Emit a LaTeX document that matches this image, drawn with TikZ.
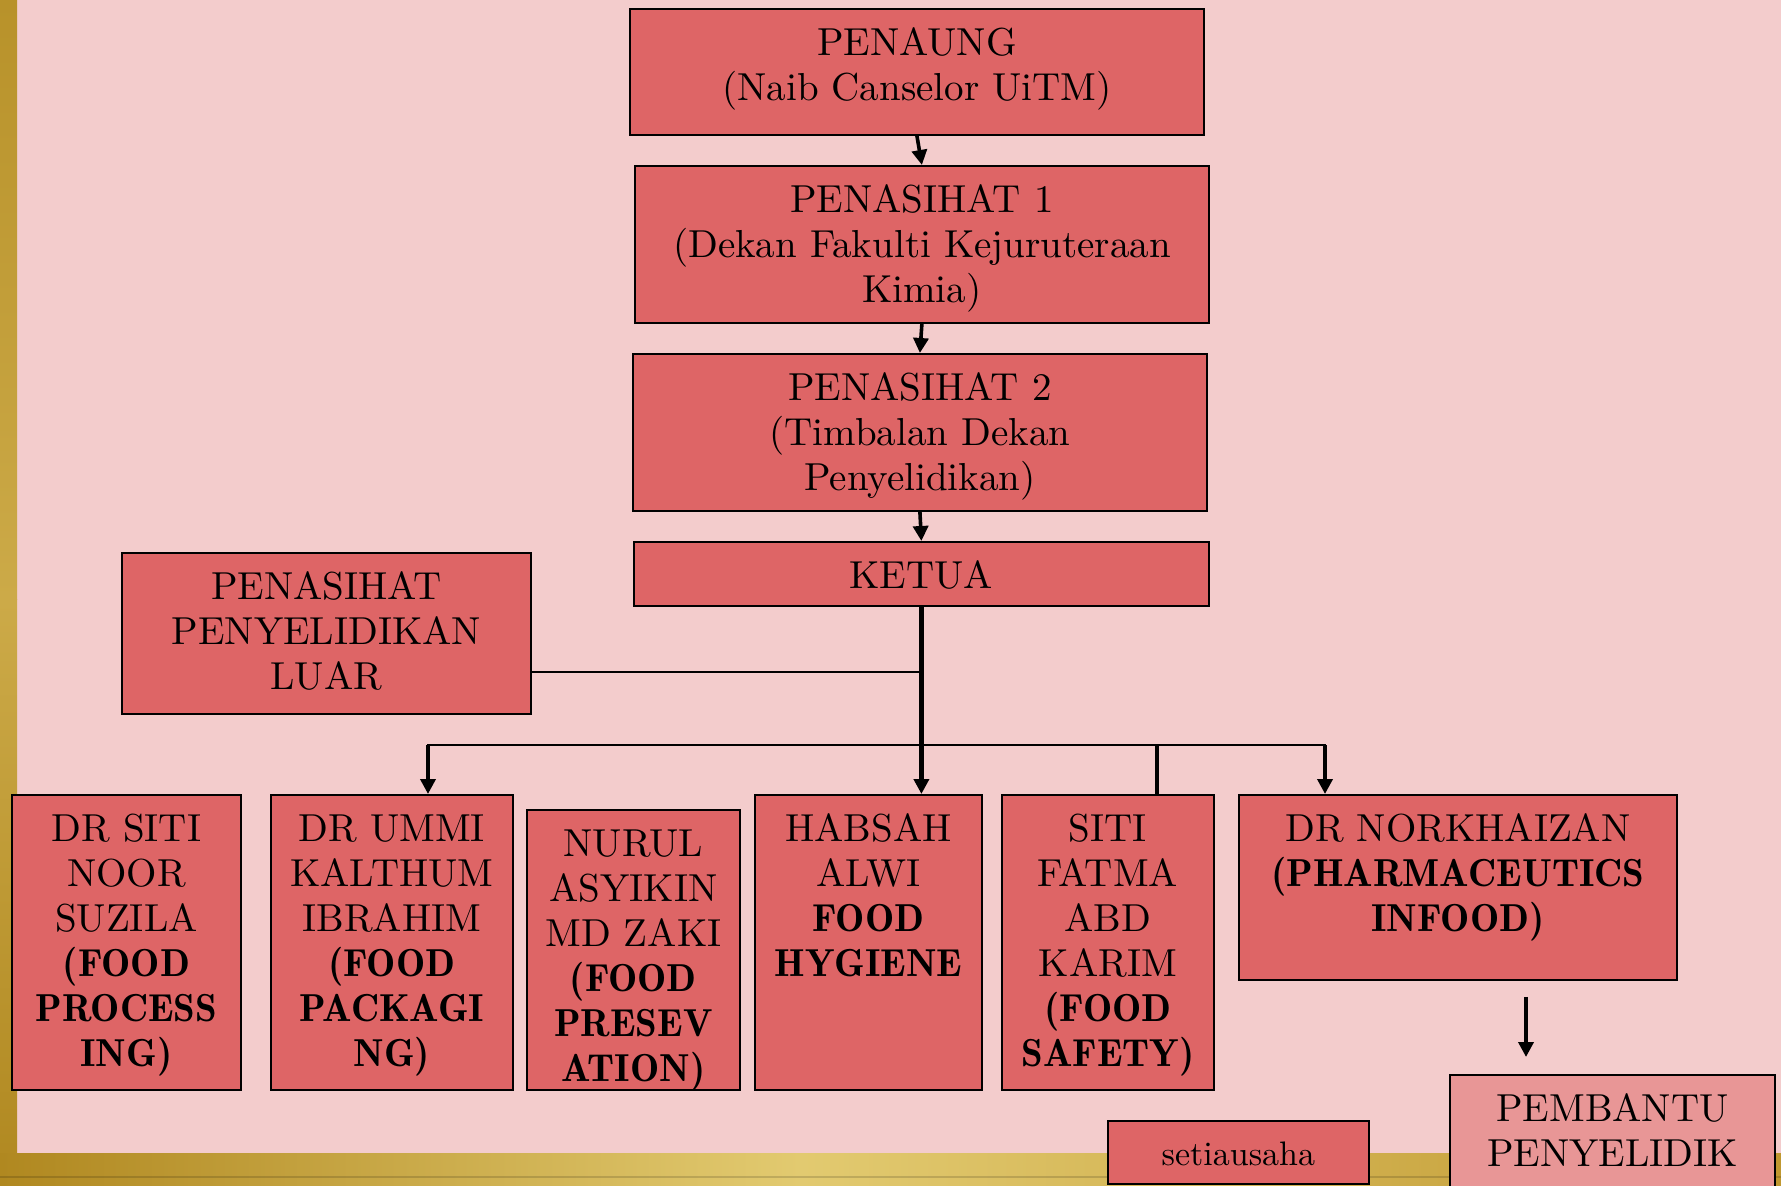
\documentclass[tikz,border=0pt]{standalone}
\usepackage{fontspec}
\setmainfont{lmroman10-regular.otf}[BoldFont=lmromandemi10-regular.otf]
\usetikzlibrary{arrows.meta}
\definecolor{bgpink}{RGB}{243,204,204}
\definecolor{boxred}{RGB}{222,101,102}
\definecolor{boxlight}{RGB}{232,150,150}
\definecolor{goldA}{RGB}{184,146,42}
\definecolor{goldB}{RGB}{204,170,72}
\definecolor{goldC}{RGB}{176,136,32}
\definecolor{goldD}{RGB}{226,202,112}
\definecolor{goldE}{RGB}{192,152,48}
\begin{document}
\begin{tikzpicture}[x=0.5pt,y=-0.5pt,
  orgbox/.style={draw=black,line width=0.9pt,fill=boxred,anchor=north west,
    inner xsep=0pt,inner ysep=0pt,align=center,
    font=\fontsize{19.5}{22.5}\selectfont},
  conn/.style={line width=1.3pt,draw=black},
  tip/.style={-{Triangle[width=7.5pt,length=7.5pt]}},
  arr/.style={draw=black,line width=1.8pt,tip},
]
\useasboundingbox (0,0) rectangle (1781,1186);
\clip (0,0) rectangle (1781,1186);
\fill[bgpink] (0,0) rectangle (1781,1186);
% gold frame
\shade[top color=goldA,bottom color=goldB] (0,0) rectangle (17,600);
\shade[top color=goldB,bottom color=goldC] (0,600) rectangle (17,1186);
\shade[left color=goldC,right color=goldD] (0,1153) rectangle (800,1186);
\shade[left color=goldD,right color=goldE] (800,1153) rectangle (1781,1186);
\draw[black,opacity=0.15,line width=0.8pt] (0,1177) -- (1781,1177);

% boxes
\node[orgbox,minimum width=287pt,text height=46pt,text depth=17pt] (penaung) at (629,8)
  {PENAUNG\\(Naib Canselor UiTM)};
\node[orgbox,minimum width=287pt,text height=68.5pt,text depth=10pt] (p1) at (634,165)
  {PENASIHAT 1\\(Dekan Fakulti Kejuruteraan\\Kimia)};
\node[orgbox,minimum width=287pt,text height=68.5pt,text depth=10pt] (p2) at (632,353)
  {PENASIHAT 2\\(Timbalan Dekan\\Penyelidikan)};
\node[orgbox,minimum width=287.5pt,text height=23.5pt,text depth=8.5pt] (ketua) at (633,541)
  {KETUA};
\node[orgbox,minimum width=204.5pt,text height=68.5pt,text depth=12pt] (ppl) at (121,552)
  {PENASIHAT\\PENYELIDIKAN\\LUAR};
\node[orgbox,minimum width=114.5pt,text height=136pt,text depth=11.5pt] (siti) at (11,794)
  {DR SITI\\NOOR\\SUZILA\\\textbf{(FOOD}\\\textbf{PROCESS}\\\textbf{ING)}};
\node[orgbox,minimum width=121pt,text height=136pt,text depth=11.5pt] (ummi) at (270,794)
  {DR UMMI\\KALTHUM\\IBRAHIM\\\textbf{(FOOD}\\\textbf{PACKAGI}\\\textbf{NG)}};
\node[orgbox,minimum width=106.5pt,text height=136pt,text depth=4pt] (nurul) at (526,809)
  {NURUL\\ASYIKIN\\MD ZAKI\\\textbf{(FOOD}\\\textbf{PRESEV}\\\textbf{ATION)}};
\node[orgbox,minimum width=113.5pt,text height=91pt,text depth=56.5pt] (habsah) at (754,794)
  {HABSAH\\ALWI\\\textbf{FOOD}\\\textbf{HYGIENE}};
\node[orgbox,minimum width=106pt,text height=136pt,text depth=11.5pt] (fatma) at (1001,794)
  {SITI\\FATMA\\ABD\\KARIM\\\textbf{(FOOD}\\\textbf{SAFETY)}};
\node[orgbox,minimum width=219pt,text height=68.5pt,text depth=24pt] (norkh) at (1238,794)
  {DR NORKHAIZAN\\\textbf{(PHARMACEUTICS}\\\textbf{INFOOD)}};
\node[orgbox,fill=boxlight,minimum width=162.5pt,text height=46pt,text depth=17pt] (pembantu) at (1449,1074)
  {PEMBANTU\\PENYELIDIK};
\node[orgbox,minimum width=130.5pt,text height=22.5pt,text depth=9pt,
  font=\fontsize{17}{20}\selectfont] (setia) at (1107,1120) {setiausaha};

% connectors
\draw[arr] (penaung.south) -- (p1.north);
\draw[arr] (p1.south) -- (p2.north);
\draw[arr] (p2.south) -- (ketua.north);
\draw[arr,line width=2.2pt] (ketua.south) -- (ketua.south |- habsah.north);
\coordinate (lineY) at (0,672);
\draw[conn,line width=1.2pt] (ppl.east |- lineY) -- (ketua.south |- lineY);
\coordinate (bL) at (428,745);
\coordinate (bR) at (1325,745);
\coordinate (bS) at (1157,745);
\draw[conn,line cap=rect] (bL) -- (bR);
\draw[arr] (bL) -- (bL |- ummi.north);
\draw[arr] (bR) -- (bR |- norkh.north);
\draw[arr,-] (bS) -- (bS |- fatma.north);
\coordinate (dn) at (1526,0);
\draw[arr,shorten <=8pt,shorten >=8.5pt] (norkh.south -| dn) -- (pembantu.north -| dn);
\end{tikzpicture}
\end{document}
